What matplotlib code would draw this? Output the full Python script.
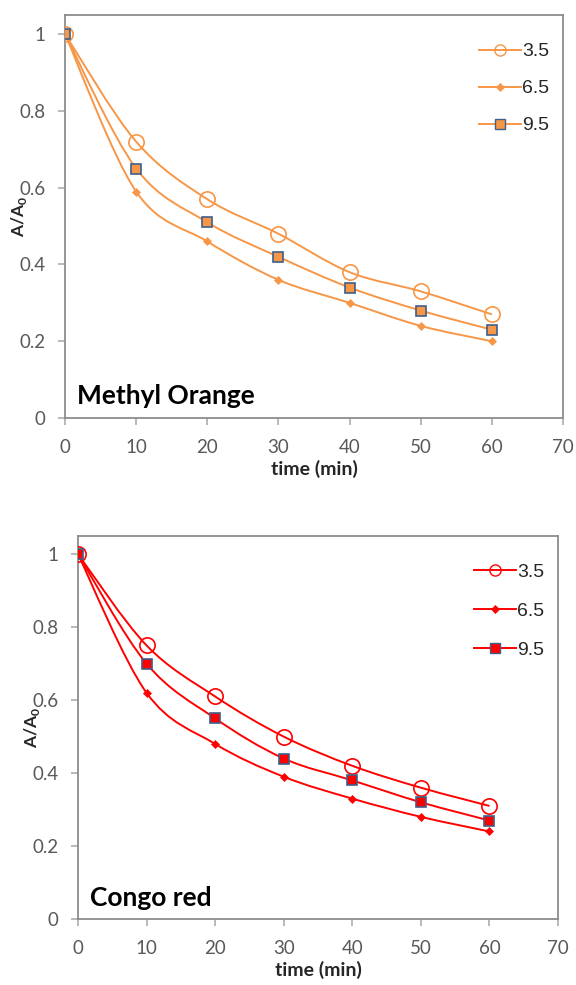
import matplotlib
matplotlib.use("Agg")
import matplotlib.pyplot as plt
from matplotlib.path import Path
from matplotlib.patches import PathPatch
from matplotlib.lines import Line2D
import numpy as np

# ---------------- data ----------------
time_min = [0, 10, 20, 30, 40, 50, 60]
ph_labels = ["3.5", "6.5", "9.5"]

mo_35 = [1.0, 0.72, 0.57, 0.48, 0.38, 0.33, 0.27]
mo_65 = [1.0, 0.59, 0.46, 0.36, 0.30, 0.24, 0.20]
mo_95 = [1.0, 0.65, 0.51, 0.42, 0.34, 0.28, 0.23]

cr_35 = [1.0, 0.75, 0.61, 0.50, 0.42, 0.36, 0.31]
cr_65 = [1.0, 0.62, 0.48, 0.39, 0.33, 0.28, 0.24]
cr_95 = [1.0, 0.70, 0.55, 0.44, 0.38, 0.32, 0.27]

x_ticks = [0, 10, 20, 30, 40, 50, 60, 70]
y_ticks = [0, 0.2, 0.4, 0.6, 0.8, 1.0]
y_ticklabels = ["0", "0.2", "0.4", "0.6", "0.8", "1"]

plt.rcParams['mathtext.fontset'] = 'custom'
plt.rcParams['mathtext.bf'] = 'Lato:bold'
plt.rcParams['mathtext.rm'] = 'Lato:bold'

fig = plt.figure(figsize=(5.76, 9.85), dpi=100)


def smooth_path(xs, ys):
    """Excel-like smoothed line: Catmull-Rom converted to cubic Bezier."""
    pts = np.column_stack([xs, ys]).astype(float)
    n = len(pts)
    verts = [pts[0]]
    codes = [Path.MOVETO]
    for i in range(n - 1):
        p0 = pts[i - 1] if i > 0 else pts[i]
        p1 = pts[i]
        p2 = pts[i + 1]
        p3 = pts[i + 2] if i + 2 < n else pts[i + 1]
        c1 = p1 + (p2 - p0) / 6.0
        c2 = p2 - (p3 - p1) / 6.0
        verts += [c1, c2, p2]
        codes += [Path.CURVE4] * 3
    return Path(verts, codes)


def draw_panel(rect, series, color, sq_edge, title, leg_space):
    ax = fig.add_axes(rect)
    ax.set_xlim(0, 70)
    ax.set_ylim(0, 1.05)
    styles = [
        dict(marker='o', ms=11, mfc='none', mec=color, mew=1.2),
        dict(marker='D', ms=4.5, mfc=color, mec=color, mew=0.5),
        dict(marker='s', ms=7.5, mfc=color, mec=sq_edge, mew=1.2),
    ]
    leg_styles = [
        dict(marker='o', ms=8, mfc='none', mec=color, mew=1.0),
        dict(marker='D', ms=4, mfc=color, mec=color, mew=0.5),
        dict(marker='s', ms=7, mfc=color, mec=sq_edge, mew=1.0),
    ]
    handles = []
    for ys, st, lst, lab in zip(series, styles, leg_styles, ph_labels):
        patch = PathPatch(smooth_path(time_min, ys), facecolor='none',
                          edgecolor=color, lw=1.4, zorder=2)
        ax.add_patch(patch)
        ax.plot(time_min, ys, ls='none', zorder=3, **st)
        handles.append(Line2D([], [], color=color, lw=1.4, label=lab, **lst))
    ax.set_xticks(x_ticks)
    ax.set_yticks(y_ticks)
    ax.set_yticklabels(y_ticklabels)
    for sp in ax.spines.values():
        sp.set_color('#8c8c8c')
        sp.set_linewidth(1.3)
    ax.tick_params(axis='both', direction='out', length=5, width=1.1,
                   color='#a6a6a6', labelcolor='#595959', labelsize=13.5)
    for lbl in ax.get_xticklabels() + ax.get_yticklabels():
        lbl.set_family('Lato')
    ax.tick_params(axis='x', pad=10)
    ax.tick_params(axis='y', pad=9)
    ax.set_xlabel('time (min)', fontsize=14, fontweight='bold',
                  family='Lato', color='#262626', labelpad=3)
    ax.set_ylabel(r'A/A$_{\mathbf{0}}$', fontsize=12.5, fontweight='bold',
                  family='Lato', color='#262626', labelpad=-7)
    ax.text(0.024, 0.035, title, transform=ax.transAxes, fontsize=19,
            fontweight='bold', family='Lato', color='black')
    leg = ax.legend(handles=handles, loc='upper right',
                    bbox_to_anchor=(1.0, 0.965), frameon=False,
                    prop={'family': 'Liberation Sans', 'size': 14},
                    handlelength=2.2, handletextpad=0.05,
                    labelspacing=leg_space, borderaxespad=0.3)
    for t in leg.get_texts():
        t.set_color('#262626')
    return ax


ax1 = draw_panel([65 / 576, 1 - 418 / 985, (563 - 65) / 576, (418 - 15) / 985],
                 [mo_35, mo_65, mo_95], '#F79646', '#3E5F8A', 'Methyl Orange',
                 1.0)
ax2 = draw_panel([78 / 576, 1 - 919 / 985, (558 - 78) / 576, (919 - 536) / 985],
                 [cr_35, cr_65, cr_95], '#FF0000', '#3E5F8A', 'Congo red',
                 1.1)

fig.savefig('out.png', dpi=100)
